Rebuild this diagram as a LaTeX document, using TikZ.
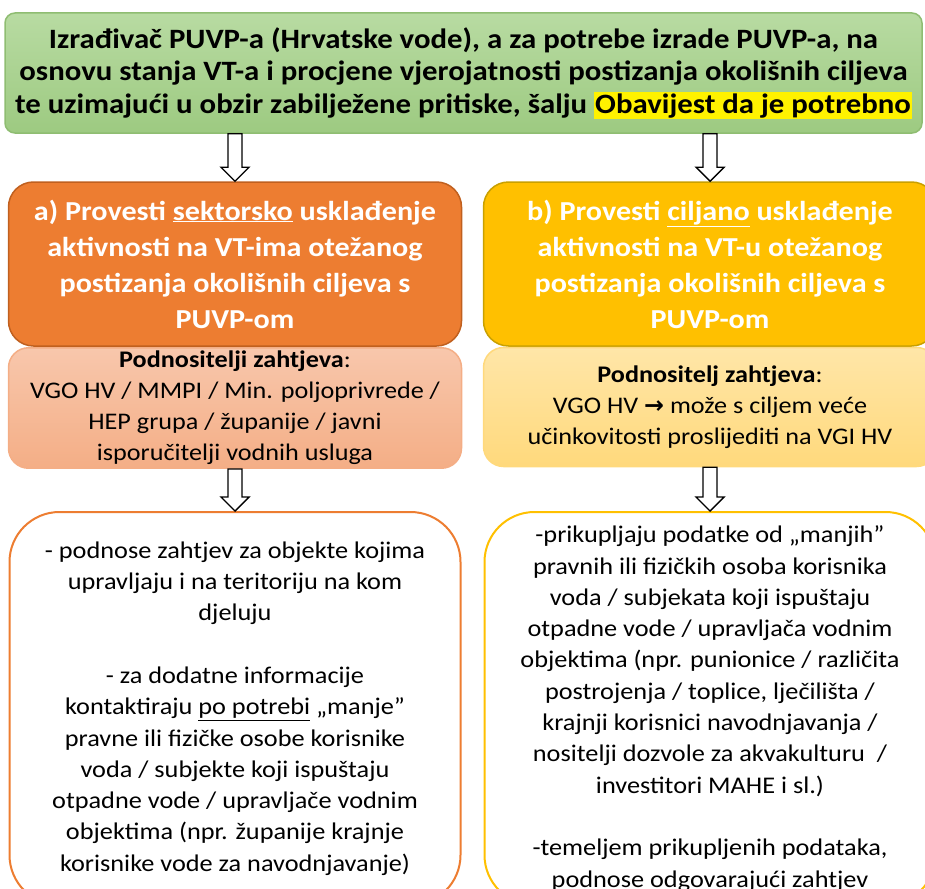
\documentclass[tikz,border=0pt]{standalone}
\usepackage{fontspec}
\setmainfont{Carlito}[FakeStretch = 1.1]
\newfontfamily\strelicafont{DejaVu Sans}
\usetikzlibrary{calc}
\definecolor{zelenagore}{HTML}{B8DBA2}
\definecolor{zelenadolje}{HTML}{9DCA81}
\definecolor{zelenarub}{HTML}{8FBD72}
\definecolor{narancasta}{HTML}{ED7D31}
\definecolor{narancastarub}{HTML}{C0601F}
\definecolor{svnarancastagore}{HTML}{F8C7AC}
\definecolor{svnarancastadolje}{HTML}{F4AE86}
\definecolor{zuta}{HTML}{FFC000}
\definecolor{zutarub}{HTML}{C9A000}
\definecolor{svzutagore}{HTML}{FFE6A8}
\definecolor{svzutadolje}{HTML}{FFD97C}
\begin{document}
\begin{tikzpicture}[x = 1pt, y = -1pt,
	obavijest/.style = {draw = zelenarub, line width = 1.5pt, top color = zelenagore, bottom color = zelenadolje,
		rounded corners = 10pt, minimum width = 917pt, minimum height = 120pt, align = center,
		font = \fontsize{28}{32.5}\selectfont\bfseries},
	glava/.style = {line width = 1.5pt, rounded corners = 25pt, minimum width = 453pt, minimum height = 164pt,
		align = center, text = white, font = \fontsize{27.4}{36}\selectfont\bfseries},
	podnositelj/.style = {line width = 1.5pt, rounded corners = 20pt, minimum width = 453pt, minimum height = 119pt,
		align = center, font = \fontsize{23.8}{31}\selectfont},
	tijelo/.style = {line width = 2pt, fill = white, rounded corners = 50pt, minimum width = 451pt, minimum height = 393pt,
		align = center, font = \fontsize{23.9}{31.3}\selectfont},
	strelica/.style = {draw = black, fill = white, line width = 1.4pt,
		to path = {let \p1 = (\tikztostart), \p2 = (\tikztotarget) in
			(\x1-7pt,\y1) -- (\x1+7pt,\y1) -- (\x1+7pt,\y2+14pt) -- (\x1+14pt,\y2+14pt) -- (\x1,\y2)
			-- (\x1-14pt,\y2+14pt) -- (\x1-7pt,\y2+14pt) -- cycle}}]
	\useasboundingbox (0,0) rectangle (925,888);
	\clip (0,0) rectangle (925,888);
	
	\node[obavijest](top) at (463.5,73) {Izrađivač PUVP-a (Hrvatske vode), a za potrebe izrade PUVP-a, na\\
		osnovu stanja VT-a i procjene vjerojatnosti postizanja okolišnih ciljeva\\
		te uzimajući u obzir zabilježene pritiske, šalju {\setlength{\fboxsep}{1pt}\colorbox{yellow}{Obavijest da je potrebno}}};
	
	\node[glava, draw = narancastarub, fill = narancasta](a) at (235,264) {a) Provesti \underline{sektorsko} usklađenje\\
		aktivnosti na VT-ima otežanog\\
		postizanja okolišnih ciljeva s\\
		PUVP-om};
	\node[glava, draw = zutarub, fill = zuta](b) at (710,264) {b) Provesti \underline{ciljano} usklađenje\\
		aktivnosti na VT-u otežanog\\
		postizanja okolišnih ciljeva s\\
		PUVP-om};
	
	\node[podnositelj, draw = svnarancastadolje, top color = svnarancastagore, bottom color = svnarancastadolje](apod) at (235,408)
		{\textbf{Podnositelji zahtjeva}:\\
		VGO HV / MMPI / Min. poljoprivrede /\\
		HEP grupa / županije / javni\\
		isporučitelji vodnih usluga};
	\node[podnositelj, draw = svzutadolje, top color = svzutagore, bottom color = svzutadolje](bpod) at (710,407)
		{\textbf{Podnositelj zahtjeva}:\\
		VGO HV {\strelicafont\bfseries →} može s ciljem veće\\
		učinkovitosti proslijediti na VGI HV};
	
	\node[tijelo, draw = narancasta](atijelo) at (235,708.5) {- podnose zahtjev za objekte kojima\\
		upravljaju i na teritoriju na kom\\
		djeluju\\[31.3pt]
		- za dodatne informacije\\
		kontaktiraju \underline{po potrebi} „manje”\\
		pravne ili fizičke osobe korisnike\\
		voda / subjekte koji ispuštaju\\
		otpadne vode / upravljače vodnim\\
		objektima (npr. županije krajnje\\
		korisnike vode za navodnjavanje)};
	\node[tijelo, draw = zuta](btijelo) at (710,708.5) {-prikupljaju podatke od „manjih”\\
		pravnih ili fizičkih osoba korisnika\\
		voda / subjekata koji ispuštaju\\
		otpadne vode / upravljača vodnim\\
		objektima (npr. punionice / različita\\
		postrojenja / toplice, lječilišta /\\
		krajnji korisnici navodnjavanja /\\
		nositelji dozvole za akvakulturu~ /\\
		investitori MAHE i sl.)\\[31.3pt]
		-temeljem prikupljenih podataka,\\
		podnose odgovarajući zahtjev};
	
	\draw[strelica] (top.south -| a.north) to (a.north);
	\draw[strelica] (top.south -| b.north) to (b.north);
	\draw[strelica] (apod.south) to (atijelo.north);
	\draw[strelica] (bpod.south) to (btijelo.north);
\end{tikzpicture}
\end{document}
